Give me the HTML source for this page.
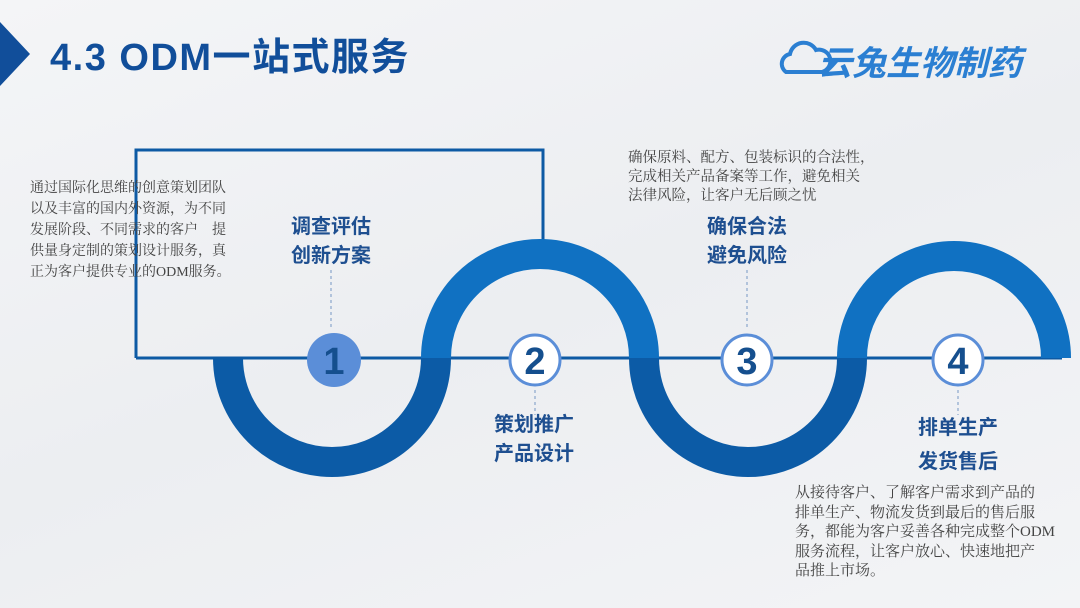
<!DOCTYPE html>
<html><head><meta charset="utf-8"><style>
body{margin:0;width:1080px;height:608px;overflow:hidden;background:linear-gradient(160deg,#f4f5f7 0%,#eceef1 50%,#f3f4f6 100%);font-family:"Liberation Sans","Noto Sans CJK SC",sans-serif;position:relative}
.p{position:absolute;font-family:"Liberation Serif","Noto Serif CJK SC",serif;color:#444}
.h{position:absolute;font-weight:bold;font-size:20px;line-height:29px;color:#1e4f90;text-align:center}
</style></head><body>
<svg width="1080" height="608" style="position:absolute;left:0;top:0">
<polygon points="0,22 30,54 0,86" fill="#114e9a"/>
<polyline points="136,358 136,150 543,150 543,240" fill="none" stroke="#0d5aa4" stroke-width="3"/>
<line x1="136" y1="358" x2="1062" y2="358" stroke="#0d5aa4" stroke-width="3"/>
<path d="M228,358 A104,104 0 0 0 436,358" fill="none" stroke="#0c5ba6" stroke-width="30"/>
<path d="M644,358 A104,104 0 0 0 852,358" fill="none" stroke="#0c5ba6" stroke-width="30"/>
<path d="M436,358 A104,104 0 0 1 644,358" fill="none" stroke="#1071c2" stroke-width="30"/>
<path d="M852,358 A102,102 0 0 1 1056,358" fill="none" stroke="#1071c2" stroke-width="30"/>
<g stroke="#8aa6cc" stroke-width="1.2" stroke-dasharray="3,3">
<line x1="331" y1="270" x2="331" y2="330"/>
<line x1="535" y1="390" x2="535" y2="415"/>
<line x1="747" y1="270" x2="747" y2="330"/>
<line x1="958" y1="390" x2="958" y2="415"/>
</g>
<circle cx="334" cy="360" r="27" fill="#5b8ed8"/>
<circle cx="535" cy="360" r="25" fill="#fff" stroke="#5b8ed8" stroke-width="3"/>
<circle cx="747" cy="360" r="25" fill="#fff" stroke="#5b8ed8" stroke-width="3"/>
<circle cx="958" cy="360" r="25" fill="#fff" stroke="#5b8ed8" stroke-width="3"/>
<g font-family="Liberation Sans,sans-serif" font-weight="bold" font-size="38" fill="#154f8e" text-anchor="middle">
<text x="334" y="374">1</text><text x="535" y="374">2</text><text x="747" y="374">3</text><text x="958" y="374">4</text>
</g>
<g fill="none" stroke="#2b7fd2" stroke-width="4">
<path d="M786,72 a10,10 0 0 1 4,-18 a14,14 0 0 1 26,-4 a10,10 0 0 1 6,22 z"/>
</g>
</svg>
<div style="position:absolute;left:50px;top:26px;font-size:38px;font-weight:bold;color:#114e9a;letter-spacing:1.5px">4.3 ODM一站式服务</div>
<div style="position:absolute;left:818px;top:36px;font-size:34px;font-weight:bold;font-style:italic;color:#2b7fd2">云兔生物制药</div>
<div class="p" style="left:30px;top:178px;width:206px;font-size:14px;line-height:21px">通过国际化思维的创意策划团队以及丰富的国内外资源，为不同发展阶段、不同需求的客户　提供量身定制的策划设计服务，真正为客户提供专业的ODM服务。</div>
<div class="p" style="left:628px;top:149px;width:270px;font-size:14.5px;line-height:19px">确保原料、配方、包装标识的合法性，<br>完成相关产品备案等工作，避免相关<br>法律风险，让客户无后顾之忧</div>
<div class="p" style="left:795px;top:484px;width:262px;font-size:15px;line-height:19.5px">从接待客户、了解客户需求到产品的<br>排单生产、物流发货到最后的售后服务，都能为客户妥善各种完成整个ODM<br>服务流程，让客户放心、快速地把产<br>品推上市场。</div>
<div class="h" style="left:281px;top:213px;width:100px">调查评估<br>创新方案</div>
<div class="h" style="left:484px;top:411px;width:100px">策划推广<br>产品设计</div>
<div class="h" style="left:697px;top:213px;width:100px">确保合法<br>避免风险</div>
<div class="h" style="left:908px;top:411px;width:100px;line-height:34px">排单生产<br>发货售后</div>
</body></html>
